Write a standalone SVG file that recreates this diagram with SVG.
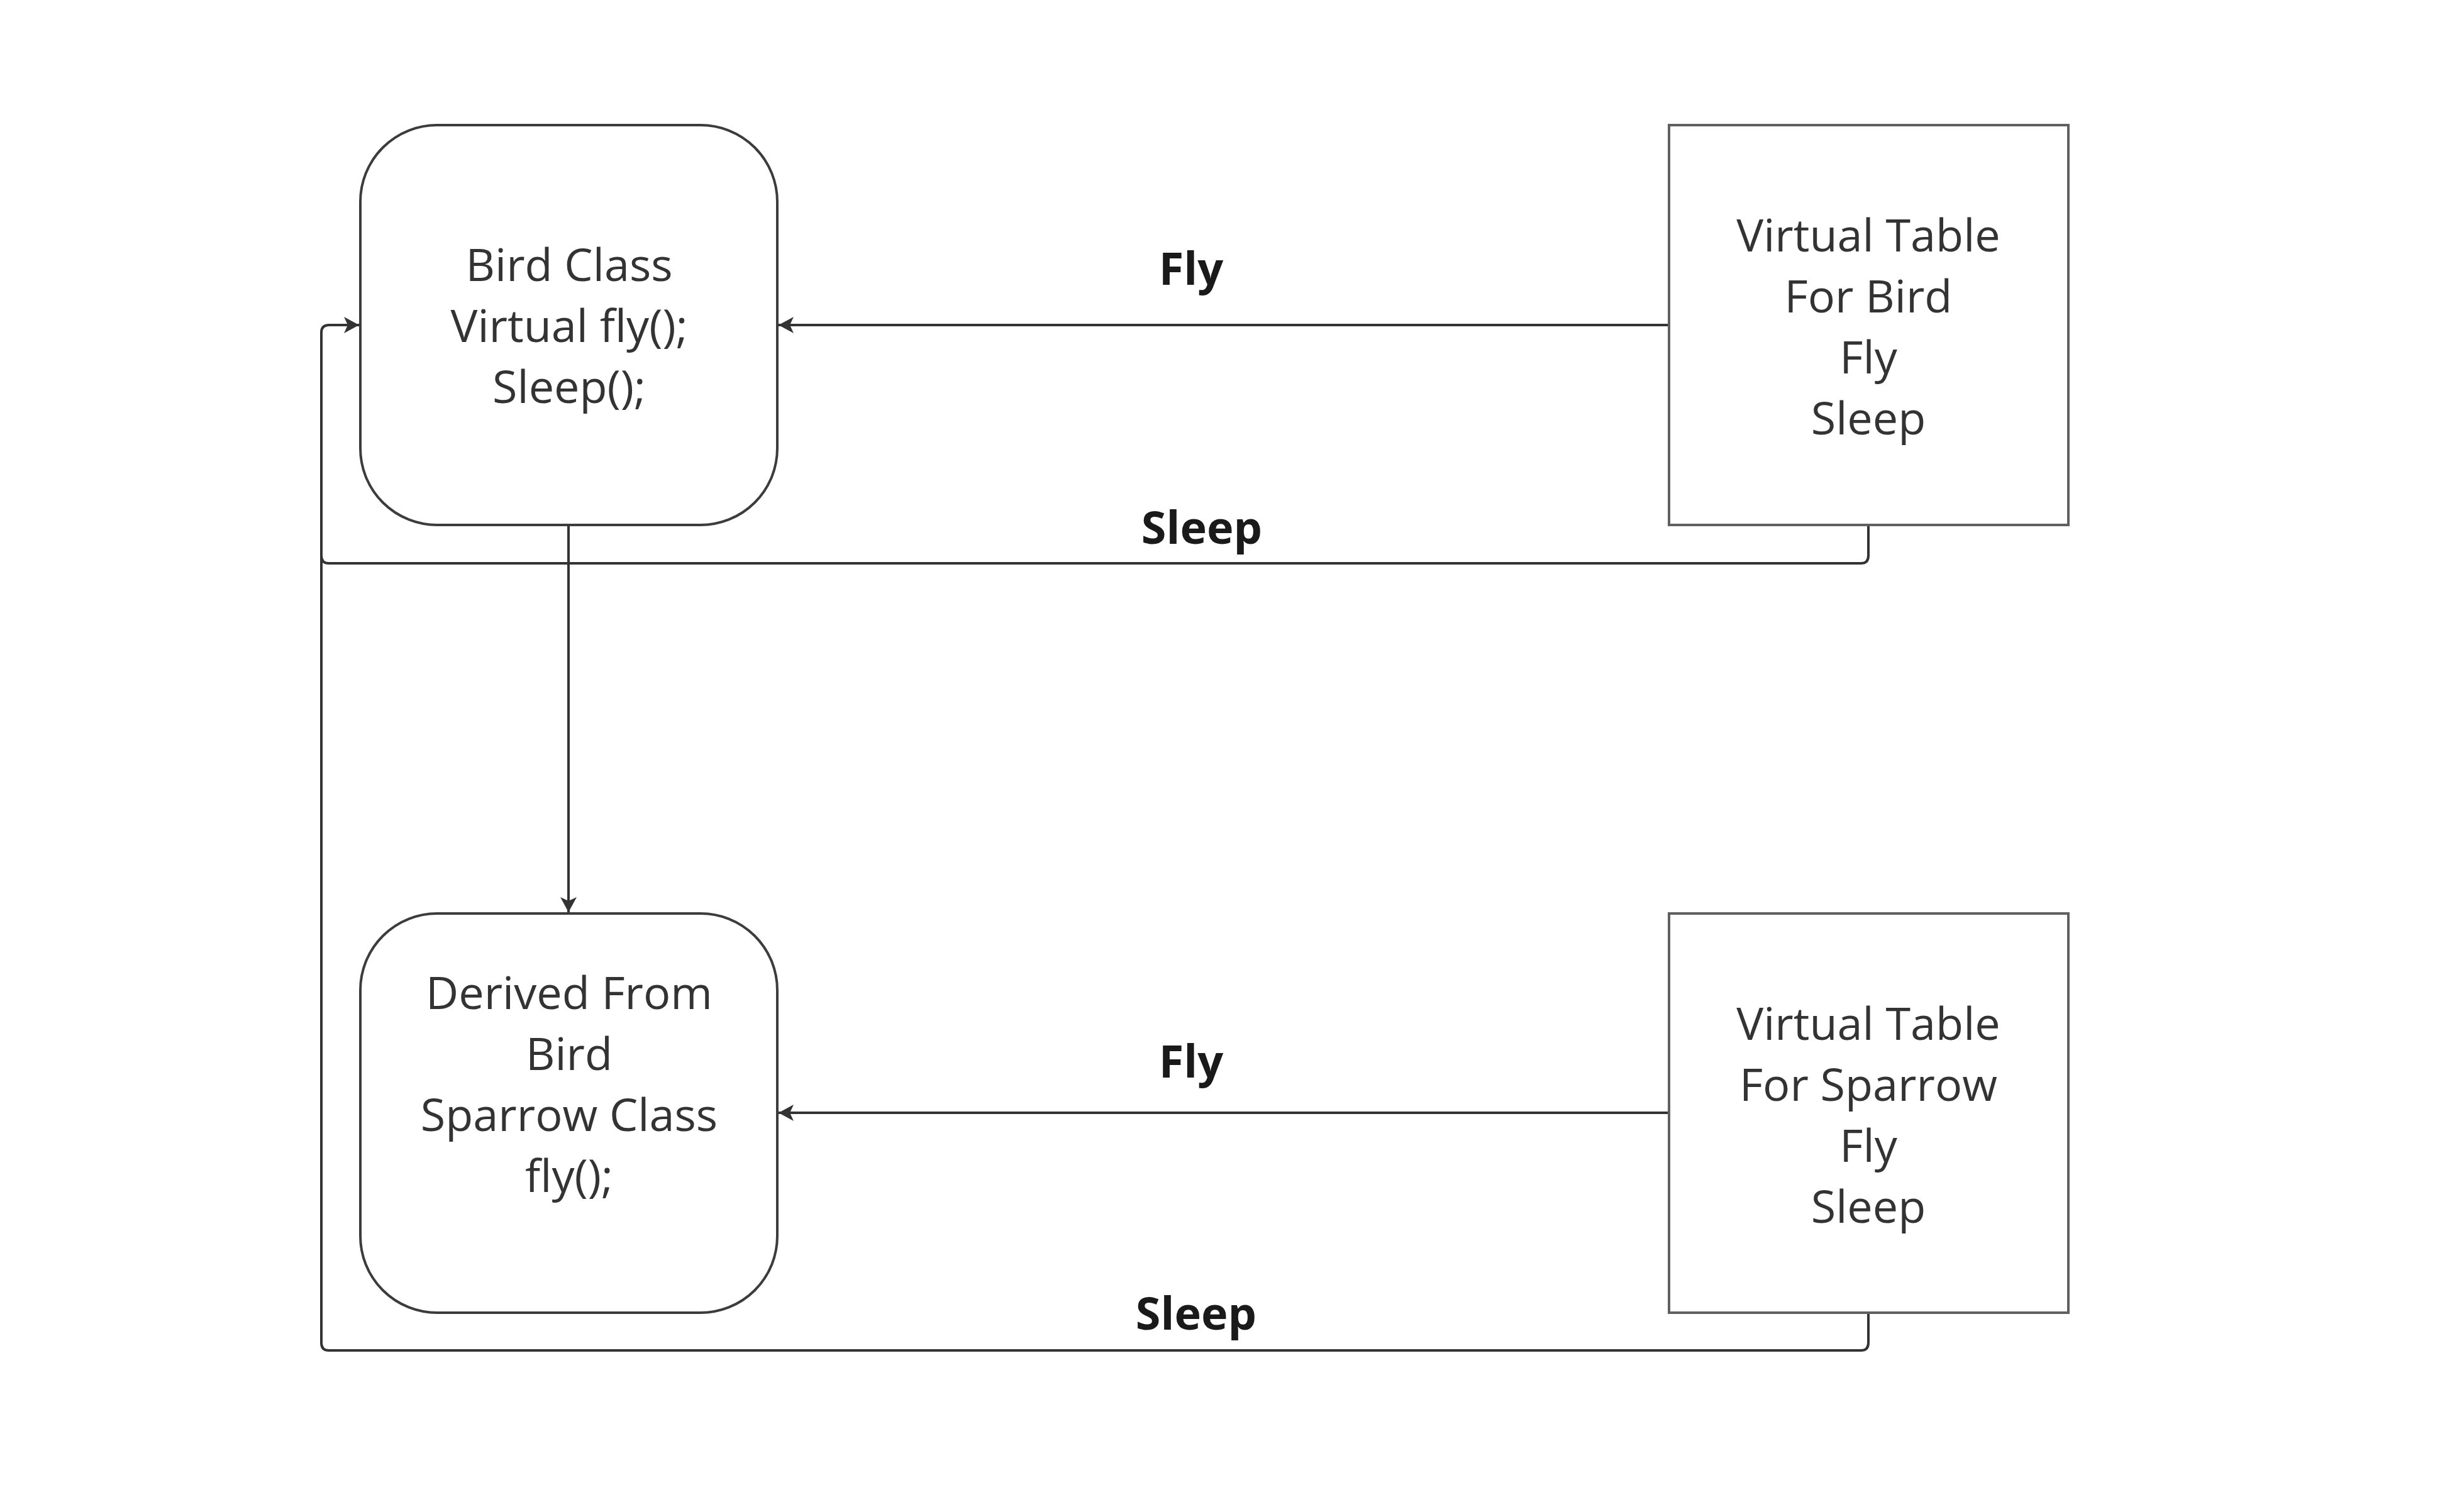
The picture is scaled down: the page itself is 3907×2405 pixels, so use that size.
<svg xmlns="http://www.w3.org/2000/svg" width="3907" height="2405" viewBox="0 0 3907 2405">
<style>
.round{fill:#ffffff;stroke:#3c3c3c;stroke-width:4}
.sq{fill:#ffffff;stroke:#606060;stroke-width:4}
.nt{font-family:"Open Sans","Liberation Sans",sans-serif;font-size:72px;fill:#333333;text-anchor:middle}
.lbl{font-family:"Open Sans","Liberation Sans",sans-serif;font-size:72px;font-weight:bold;fill:#1a1a1a;text-anchor:middle}
.conn{fill:none;stroke:#333333;stroke-width:4;stroke-linejoin:round}
</style>
<defs>
<marker id="arr" markerUnits="userSpaceOnUse" markerWidth="30" markerHeight="30" viewBox="-26 -15 30 30" refX="0" refY="0" orient="auto">
<path d="M0,0 L-24,-13 L-18,0 L-24,13 Z" fill="#333333"/>
</marker>
</defs>
<rect width="3907" height="2405" fill="#ffffff"/>
<g id="connectors">
<path class="conn" d="M2654,517 H1238" marker-end="url(#arr)"/>
<path class="conn" d="M2971,835 V884 Q2971,896 2959,896 H523 Q511,896 511,884 V529 Q511,517 523,517 H571" marker-end="url(#arr)"/>
<path class="conn" d="M904,835 V1451" marker-end="url(#arr)"/>
<path class="conn" d="M2654,1770 H1238" marker-end="url(#arr)"/>
<path class="conn" d="M2971,2088 V2136 Q2971,2148 2959,2148 H523 Q511,2148 511,2136 V880"/>
<text class="lbl" x="1894" y="453">Fly</text>
<text class="lbl" x="1911" y="865">Sleep</text>
<text class="lbl" x="1894" y="1714">Fly</text>
<text class="lbl" x="1902" y="2115">Sleep</text>
</g>
<g id="bird-class">
<rect class="round" x="573" y="199" width="663" height="636" rx="122" ry="122"/>
<text class="nt" x="905" y="447">Bird Class</text>
<text class="nt" x="905" y="544">Virtual fly();</text>
<text class="nt" x="905" y="641">Sleep();</text>
</g>
<g id="vtable-bird">
<rect class="sq" x="2654" y="199" width="635" height="636"/>
<text class="nt" x="2971" y="400">Virtual Table</text>
<text class="nt" x="2971" y="497">For Bird</text>
<text class="nt" x="2971" y="594">Fly</text>
<text class="nt" x="2971" y="691">Sleep</text>
</g>
<g id="sparrow-class">
<rect class="round" x="573" y="1453" width="663" height="635" rx="122" ry="122"/>
<text class="nt" x="905" y="1605">Derived From</text>
<text class="nt" x="905" y="1702">Bird</text>
<text class="nt" x="905" y="1799">Sparrow Class</text>
<text class="nt" x="905" y="1896">fly();</text>
</g>
<g id="vtable-sparrow">
<rect class="sq" x="2654" y="1453" width="635" height="635"/>
<text class="nt" x="2971" y="1654">Virtual Table</text>
<text class="nt" x="2971" y="1751">For Sparrow</text>
<text class="nt" x="2971" y="1848">Fly</text>
<text class="nt" x="2971" y="1945">Sleep</text>
</g>
</svg>
